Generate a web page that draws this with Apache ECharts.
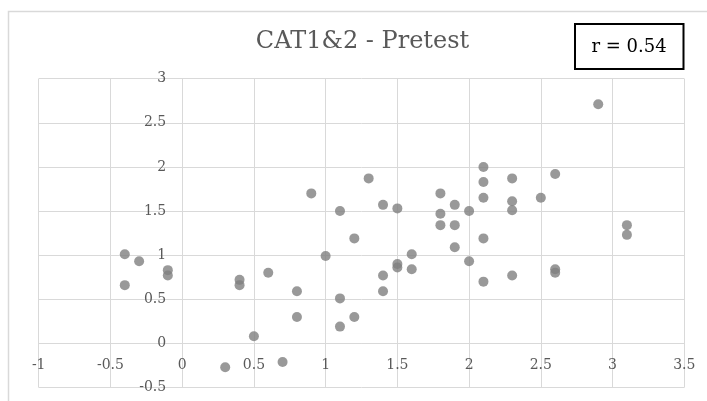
<!DOCTYPE html>
<html>
<head>
<meta charset="utf-8">
<script src="https://cdn.jsdelivr.net/npm/echarts@6/dist/echarts.min.js"></script>
<style>
html,body{margin:0;padding:0;background:#fff;}
#c{width:707px;height:401px;}
</style>
</head>
<body>
<div id="c"></div>
<script>
const titleText = "CAT1&2 - Pretest";
const rText = "r = 0.54";
const xVals = [-0.40,-0.40,-0.30,-0.10,-0.10,0.30,0.40,0.40,0.50,0.60,0.70,0.80,0.80,0.90,1.00,1.10,1.10,1.10,1.20,1.20,1.30,1.40,1.40,1.40,1.50,1.50,1.50,1.60,1.60,1.80,1.80,1.80,1.90,1.90,1.90,2.00,2.00,2.10,2.10,2.10,2.10,2.10,2.30,2.30,2.30,2.30,2.50,2.60,2.60,2.60,2.90,3.10,3.10];
const yVals = [1.01,0.66,0.93,0.83,0.77,-0.27,0.72,0.66,0.08,0.80,-0.21,0.59,0.30,1.70,0.99,1.50,0.51,0.19,1.19,0.30,1.87,1.57,0.77,0.59,1.53,0.90,0.86,1.01,0.84,1.70,1.47,1.34,1.57,1.34,1.09,1.50,0.93,2.00,1.83,1.65,1.19,0.70,1.87,1.61,1.51,0.77,1.65,1.92,0.84,0.80,2.71,1.34,1.23];
const xTicks = {min:-1, max:3.5, interval:0.5};
const yTicks = {min:-0.5, max:3, interval:0.5};

const points = xVals.map((x,i)=>[x, yVals[i]]);
const font = "DejaVu Serif";
const G = {left:38.7, right:22.7, top:78.7, bottom:13.5, W:707, H:401};
const plotW = G.W - G.left - G.right, plotH = G.H - G.top - G.bottom;
// place each axis on the other's zero value
const xAxisOffset = -(plotH * (0 - yTicks.min) / (yTicks.max - yTicks.min));
const yAxisOffset = -(plotW * (0 - xTicks.min) / (xTicks.max - xTicks.min));
const chart = echarts.init(document.getElementById('c'), null, {renderer:'canvas'});
chart.setOption({
  backgroundColor:'#ffffff',
  animation:false,
  grid:{left:G.left, right:G.right, top:G.top, bottom:G.bottom, containLabel:false, outerBoundsMode:'none'},
  xAxis:{
    type:'value', min:xTicks.min, max:xTicks.max, interval:xTicks.interval,
    position:'bottom', offset:xAxisOffset,
    axisLine:{show:true, onZero:false, lineStyle:{color:'#d9d9d9', width:1}},
    axisTick:{show:false},
    axisLabel:{color:'#595959', fontFamily:font, fontSize:14, margin:15, showMinLabel:true, showMaxLabel:true, hideOverlap:false},
    splitLine:{show:true, lineStyle:{color:'#d9d9d9', width:1}}
  },
  yAxis:{
    type:'value', min:yTicks.min, max:yTicks.max, interval:yTicks.interval,
    position:'left', offset:yAxisOffset,
    axisLine:{show:true, onZero:false, lineStyle:{color:'#d9d9d9', width:1}},
    axisTick:{show:false},
    axisLabel:{color:'#595959', fontFamily:font, fontSize:14, margin:16, showMinLabel:true, showMaxLabel:true, hideOverlap:false},
    splitLine:{show:true, lineStyle:{color:'#d9d9d9', width:1}}
  },
  series:[{
    type:'scatter',
    data:points,
    symbol:'circle',
    symbolSize:10,
    itemStyle:{color:'#808080'}
  }],
  graphic:[
    {type:'rect', z:-10, silent:true, shape:{x:8.5, y:11.5, width:720, height:420}, style:{fill:null, stroke:'#d9d9d9', lineWidth:1.5}},
    {type:'text', x:362.5, y:42, style:{text:titleText, font:'24px "DejaVu Serif"', fill:'#595959', align:'center', verticalAlign:'middle'}},
    {type:'rect', shape:{x:575, y:24, width:108.5, height:45}, style:{fill:'#ffffff', stroke:'#000000', lineWidth:2}, z:100},
    {type:'text', x:629, y:47, z:101, style:{text:rText, font:'18px "DejaVu Serif"', fill:'#000000', align:'center', verticalAlign:'middle'}}
  ]
});
</script>
</body>
</html>
